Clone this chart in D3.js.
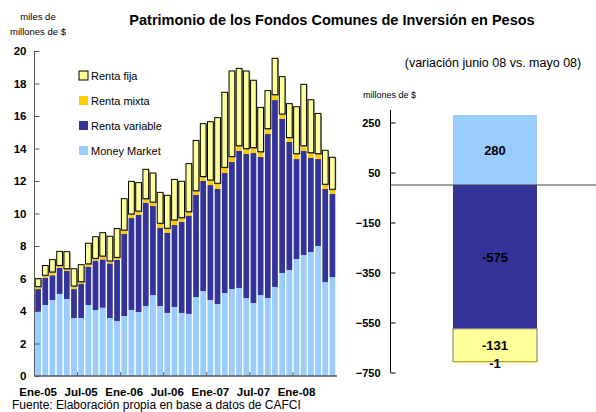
<!DOCTYPE html>
<html>
<head>
<meta charset="utf-8">
<script src="https://cdn.jsdelivr.net/npm/d3@7"></script>
<style>
  body { margin: 0; background: #fff; }
  svg { display: block; font-family: "Liberation Sans", Arial, sans-serif; }
</style>
</head>
<body>
<svg id="chart" width="596" height="412"></svg>
<script>
// meses ene-05 .. jun-08
const months = [
  "Ene-05","Feb-05","Mar-05","Abr-05","May-05","Jun-05","Jul-05","Ago-05","Sep-05","Oct-05","Nov-05","Dic-05",
  "Ene-06","Feb-06","Mar-06","Abr-06","May-06","Jun-06","Jul-06","Ago-06","Sep-06","Oct-06","Nov-06","Dic-06",
  "Ene-07","Feb-07","Mar-07","Abr-07","May-07","Jun-07","Jul-07","Ago-07","Sep-07","Oct-07","Nov-07","Dic-07",
  "Ene-08","Feb-08","Mar-08","Abr-08","May-08","Jun-08"
];
const tickLabels = ["Ene-05","Jul-05","Ene-06","Jul-06","Ene-07","Jul-07","Ene-08"];

// miles de millones de $
const moneyMarket = [3.96,4.37,4.68,5.05,4.74,3.57,3.57,4.37,4.06,4.20,3.57,3.38,
  3.69,4.06,3.94,4.31,4.98,4.31,3.88,4.25,3.88,3.82,4.86,5.23,
  4.68,4.43,5.11,5.35,5.42,4.80,4.49,4.98,4.80,5.48,6.34,6.52,
  7.20,7.45,7.63,8.00,5.78,6.09];
const rentaVariable = [1.39,1.68,1.52,1.60,1.72,1.78,2.09,2.36,3.04,2.98,3.36,3.76,
  5.05,5.66,5.97,6.36,5.48,4.82,4.94,5.04,5.60,6.05,6.28,6.77,
  7.07,7.08,7.38,7.82,8.43,8.86,9.23,8.50,10.09,11.50,9.48,7.88,
  6.15,6.40,5.79,5.35,5.73,5.11];
const rentaMixta = [0.15,0.15,0.20,0.15,0.14,0.19,0.14,0.17,0.14,0.20,0.15,0.16,
  0.24,0.25,0.24,0.24,0.24,0.27,0.27,0.31,0.26,0.24,0.26,0.27,
  0.31,0.35,0.35,0.33,0.32,0.33,0.33,0.32,0.33,0.33,0.30,0.27,
  0.33,0.32,0.32,0.33,0.29,0.29];
const rentaFija = [0.50,0.60,0.76,0.87,1.05,1.06,1.05,1.27,1.33,1.44,1.52,1.77,
  1.93,2.01,1.75,1.81,1.79,1.90,2.03,2.50,2.24,2.96,3.10,3.26,
  3.59,4.04,4.62,5.27,4.76,4.78,4.15,2.73,2.34,2.24,2.30,2.09,
  2.89,3.78,3.26,2.48,2.09,1.97];

// variación junio 08 vs. mayo 08, millones de $
const varKeys = ["mm","rv","rf","rm"];
const varValues = [280, -575, -131, -1];
const varLabels = ["280", "-575", "-131", "-1"];

const colors = { mm: "#99ccff", rv: "#333399", rm: "#ffcc00", rf: "#ffff99" };
const legendItems = [
  { key: "rf", label: "Renta fija" },
  { key: "rm", label: "Renta mixta" },
  { key: "rv", label: "Renta variable" },
  { key: "mm", label: "Money Market" }
];

const svg = d3.select("#chart");

// ---------- panel izquierdo ----------
const rows = months.map((m, i) => ({
  month: m, mm: moneyMarket[i], rv: rentaVariable[i], rm: rentaMixta[i], rf: rentaFija[i]
}));
const stack = d3.stack().keys(["mm", "rv", "rm", "rf"])(rows);

const x = d3.scaleBand().domain(months).range([34.5, 336]).paddingInner(0.2).paddingOuter(0.1);
const y = d3.scaleLinear().domain([0, 20]).range([376, 51]);

const left = svg.append("g");

stack.forEach(layer => {
  const g = left.append("g");
  if (layer.key === "rf") {
    // sombra gris
    g.selectAll("rect.sh").data(layer).join("rect")
      .attr("x", d => x(d.data.month) + 1)
      .attr("y", d => y(d[1]) + 1)
      .attr("width", x.bandwidth())
      .attr("height", d => y(d[0]) - y(d[1]))
      .attr("fill", "#999");
  }
  g.selectAll("rect.b").data(layer).join("rect")
    .attr("x", d => x(d.data.month))
    .attr("y", d => y(d[1]))
    .attr("width", x.bandwidth())
    .attr("height", d => y(d[0]) - y(d[1]))
    .attr("fill", colors[layer.key])
    .attr("stroke", layer.key === "rf" ? "#000" : "none")
    .attr("stroke-width", 1);
});

// eje Y
const yAxis = left.append("g").attr("transform", "translate(34.5,0)")
  .call(d3.axisRight(y).tickValues(d3.range(0, 21, 2)).tickSize(5).tickFormat(d3.format("d")));
yAxis.select(".domain").attr("stroke", "#555").attr("d", "M0,51V376");
yAxis.selectAll(".tick line").attr("stroke", "#555");
yAxis.selectAll(".tick text")
  .attr("x", -8).attr("text-anchor", "end")
  .attr("font-size", 11.5).attr("font-weight", "bold").attr("fill", "#000");

// eje X
const xAxis = left.append("g").attr("transform", "translate(0,376)");
xAxis.append("line").attr("x1", 34.5).attr("x2", 337).attr("stroke", "#555").attr("stroke-width", 1.5);
xAxis.selectAll("line.t").data(tickLabels).join("line")
  .attr("x1", d => x(d) - x.step() * x.paddingInner() / 2)
  .attr("x2", d => x(d) - x.step() * x.paddingInner() / 2)
  .attr("y1", 0).attr("y2", -4).attr("stroke", "#555");
xAxis.selectAll("text").data(tickLabels).join("text")
  .attr("x", d => x(d) + x.bandwidth() / 2)
  .attr("y", 20)
  .attr("text-anchor", "middle")
  .attr("font-size", 11.5).attr("font-weight", "bold")
  .text(d => d);

// unidad
left.append("text").attr("x", 38).attr("y", 20).attr("text-anchor", "middle")
  .attr("font-size", 9.5).text("miles de");
left.append("text").attr("x", 38).attr("y", 35).attr("text-anchor", "middle")
  .attr("font-size", 9.5).text("millones de $");

// leyenda
const legend = left.append("g");
legendItems.forEach((it, i) => {
  const ly = 76 + i * 25;
  legend.append("rect").attr("x", 79).attr("y", ly - 5).attr("width", 9).attr("height", 9)
    .attr("fill", colors[it.key])
    .attr("stroke", it.key === "rf" ? "#000" : "none");
  legend.append("text").attr("x", 91).attr("y", ly + 4)
    .attr("font-size", 11).text(it.label);
});

// ---------- panel derecho ----------
const vRow = {};
varKeys.forEach((k, i) => { vRow[k] = varValues[i]; });
vRow.cat = "jun08";
const vStack = d3.stack().keys(varKeys).offset(d3.stackOffsetDiverging)([vRow]);

const x2 = d3.scaleBand().domain(["jun08"]).range([400, 590]).paddingInner(0).paddingOuter(0.631);
const y2 = d3.scaleLinear().domain([-750, 300]).range([372.5, 110]);

const right = svg.append("g");
vStack.forEach(layer => {
  right.selectAll(null).data(layer).join("rect")
    .attr("x", d => x2(d.data.cat))
    .attr("y", d => y2(d[1]))
    .attr("width", x2.bandwidth())
    .attr("height", d => Math.max(1, y2(d[0]) - y2(d[1])))
    .attr("fill", colors[layer.key])
    .attr("stroke", layer.key === "rf" ? "#777" : "none");
});

// linea del cero
right.append("line").attr("x1", 390.5).attr("x2", 596)
  .attr("y1", y2(0)).attr("y2", y2(0)).attr("stroke", "#444").attr("stroke-width", 1);

const yAxis2 = right.append("g").attr("transform", "translate(390.5,0)")
  .call(d3.axisRight(y2).tickValues([250, 50, -150, -350, -550, -750]).tickSize(5));
yAxis2.select(".domain").attr("stroke", "#000").attr("d", "M0,110V372.5");
yAxis2.selectAll(".tick line").attr("stroke", "#000");
yAxis2.selectAll(".tick text")
  .attr("x", -10).attr("text-anchor", "end")
  .attr("font-size", 11).attr("font-weight", "bold").attr("fill", "#000");

// etiquetas de valores
vStack.forEach((layer, i) => {
  const d = layer[0];
  const cy = layer.key === "rm" ? y2(d[0]) + 1 : (y2(d[0]) + y2(d[1])) / 2;
  right.append("text")
    .attr("x", x2("jun08") + x2.bandwidth() / 2)
    .attr("y", cy + 5)
    .attr("text-anchor", "middle")
    .attr("font-size", 13).attr("font-weight", "bold")
    .text(varLabels[i]);
});

right.append("text").attr("x", 363).attr("y", 98).attr("font-size", 9).text("millones de $");
right.append("text").attr("x", 493).attr("y", 67).attr("text-anchor", "middle")
  .attr("font-size", 12.5).text("(variación junio 08 vs. mayo 08)");

// titulo y fuente
svg.append("text").attr("x", 332).attr("y", 25).attr("text-anchor", "middle")
  .attr("font-size", 14.5).attr("font-weight", "bold")
  .text("Patrimonio de los Fondos Comunes de Inversión en Pesos");
svg.append("text").attr("x", 12).attr("y", 409).attr("font-size", 12)
  .text("Fuente: Elaboración propia en base a datos de CAFCI");
</script>
</body>
</html>
